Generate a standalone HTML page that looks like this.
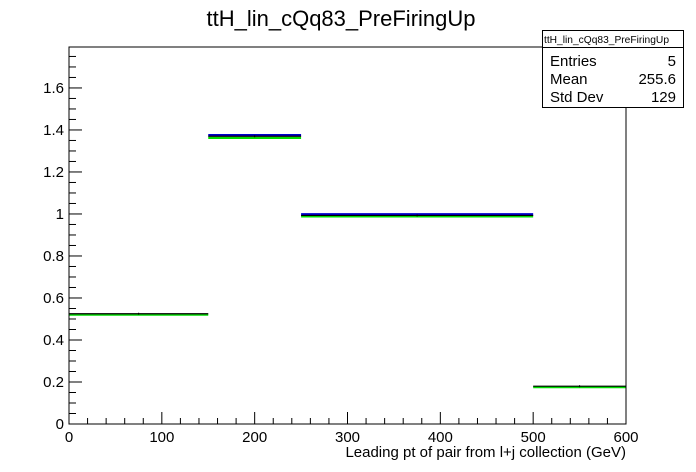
<!DOCTYPE html>
<html><head><meta charset="utf-8"><style>
body{margin:0;background:#fff;}
svg{display:block;font-family:"Liberation Sans",sans-serif;}
</style></head><body>
<svg width="696" height="472">
<rect width="696" height="472" fill="#fff"/>
<text x="341" y="26" font-size="22" text-anchor="middle">ttH_lin_cQq83_PreFiringUp</text>
<g id="axes"></g>
<g id="marks"></g>
<rect x="69" y="47" width="557" height="377" fill="none" stroke="#000"/>
<g>
<rect x="542.5" y="30.5" width="141" height="77" fill="#fff" stroke="#000"/>
<line x1="542.5" y1="47.5" x2="683.5" y2="47.5" stroke="#000"/>
<text x="544" y="43" font-size="10" textLength="125" lengthAdjust="spacingAndGlyphs">ttH_lin_cQq83_PreFiringUp</text>
<text x="550" y="66" font-size="15">Entries</text><text x="676" y="66" font-size="15" text-anchor="end">5</text>
<text x="550" y="84" font-size="15">Mean</text><text x="676" y="84" font-size="15" text-anchor="end">255.6</text>
<text x="550" y="102" font-size="15">Std Dev</text><text x="676" y="102" font-size="15" text-anchor="end">129</text>
</g>
<text x="626" y="457" font-size="15" text-anchor="end">Leading pt of pair from l+j collection (GeV)</text>
</svg>
<script>
const binEdges=[0,150,250,500,600];
const blackVals=[0.525,1.37,0.993,0.18];
const blueVals=[null,1.375,0.998,null];
const greenVals=[0.52,1.362,0.988,0.175];
const xTickLabels=["0","100","200","300","400","500","600"];
const yTickLabels=["0","0.2","0.4","0.6","0.8","1","1.2","1.4","1.6"];
const X0=69,X1=626,Y0=424,Y1=47,XMAX=600,YMAX=1.795;
const NS="http://www.w3.org/2000/svg";
const sx=v=>X0+(v/XMAX)*(X1-X0);
const sy=v=>Y0-(v/YMAX)*(Y0-Y1);
const axes=document.getElementById('axes'),marks=document.getElementById('marks');
function ln(p,x1,y1,x2,y2,c,w){const l=document.createElementNS(NS,'line');l.setAttribute('x1',x1);l.setAttribute('y1',y1);l.setAttribute('x2',x2);l.setAttribute('y2',y2);l.setAttribute('stroke',c);l.setAttribute('stroke-width',w);p.appendChild(l);return l;}
function tx(p,x,y,s,a){const t=document.createElementNS(NS,'text');t.setAttribute('x',x);t.setAttribute('y',y);t.setAttribute('font-size','15');t.setAttribute('text-anchor',a);t.textContent=s;p.appendChild(t);return t;}
for(let v=0;v<=600;v+=20){const maj=v%100===0;const l=ln(axes,sx(v),Y0,sx(v),Y0-(maj?12:6),'#000',1);

}
xTickLabels.forEach(s=>{const t=tx(axes,sx(+s),442,s,'middle');

});
for(let i=0;i*0.05<=YMAX+1e-9;i++){const v=i*0.05;const maj=i%4===0;const l=ln(axes,X0,sy(v),X0+(maj?13:7),sy(v),'#000',1);

}
yTickLabels.forEach(s=>{const t=tx(axes,64,sy(+s)+5,s,'end');

});
function series(vals,color,w,name){vals.forEach((v,i)=>{if(v===null)return;const l=ln(marks,sx(binEdges[i]),sy(v),sx(binEdges[i+1]),sy(v),color,w);

});}
series(greenVals,'#00dd00',2,'green-series-bin');
series(blueVals,'#0000cc',2.5,'blue-series-bin');
series(blackVals,'#000',1.2,'black-series-bin');
blackVals.forEach((v,i)=>{const m=(binEdges[i]+binEdges[i+1])/2;const l=ln(marks,sx(m),sy(v)-1,sx(m),sy(v)+1,'#000',1);

});
</script>
</body></html>
